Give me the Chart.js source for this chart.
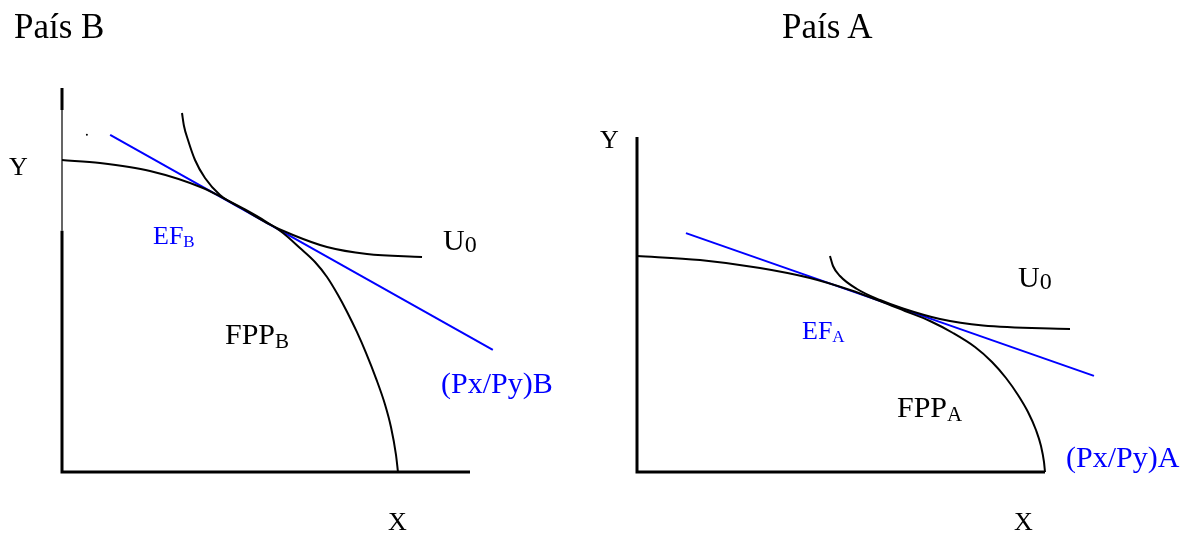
<!DOCTYPE html>
<html>
<head>
<meta charset="utf-8">
<script src="https://cdn.jsdelivr.net/npm/chart.js@4.4.1/dist/chart.umd.min.js"></script>
<style>
  html, body { margin: 0; padding: 0; background: #fff; }
  #page { position: relative; width: 1192px; height: 533px; overflow: hidden; font-family: "Liberation Serif", "Times New Roman", serif; }
  canvas { position: absolute; top: 0; }
  .lbl { position: absolute; white-space: nowrap; line-height: 1; color: #000; }
  .blue { color: #0000ff; }
  .sub { position: relative; }
</style>
</head>
<body>
<div id="page">
  <canvas id="chartB" width="596" height="533" style="left:0"></canvas>
  <canvas id="chartA" width="596" height="533" style="left:596px"></canvas>

  <div class="lbl" style="left:14px;top:9px;font-size:35px">País B</div>
  <div class="lbl" style="left:782px;top:9px;font-size:35px">País A</div>

  <div class="lbl" style="left:9px;top:154px;font-size:26px">Y</div>
  <div class="lbl" style="left:388px;top:509px;font-size:26px">X</div>
  <div class="lbl blue" style="left:153px;top:223px;font-size:26px">EF<span class="sub" style="font-size:17px;top:3px">B</span></div>
  <div class="lbl" style="left:443px;top:225px;font-size:30px">U<span class="sub" style="font-size:24px;top:2px">0</span></div>
  <div class="lbl" style="left:225px;top:319px;font-size:30px">FPP<span class="sub" style="font-size:21px;top:4px">B</span></div>
  <div class="lbl blue" style="left:441px;top:368px;font-size:30px">(Px/Py)B</div>

  <div class="lbl" style="left:600px;top:127px;font-size:26px">Y</div>
  <div class="lbl" style="left:1014px;top:509px;font-size:26px">X</div>
  <div class="lbl" style="left:1018px;top:262px;font-size:30px">U<span class="sub" style="font-size:24px;top:2px">0</span></div>
  <div class="lbl blue" style="left:802px;top:318px;font-size:26px">EF<span class="sub" style="font-size:17px;top:3px">A</span></div>
  <div class="lbl" style="left:897px;top:392px;font-size:30px">FPP<span class="sub" style="font-size:21px;top:4px">A</span></div>
  <div class="lbl blue" style="left:1066px;top:442px;font-size:30px">(Px/Py)A</div>
</div>

<script>
// País B: frontera de posibilidades, curva de indiferencia y relación de precios
const fppB_x = [0, 0.931, 2.157, 3.456, 3.995, 4.485, 4.975, 5.417, 5.833, 6.201, 6.495, 6.765, 6.985, 7.230, 7.451, 7.696, 7.917, 8.064, 8.186, 8.235];
const fppB_y = [8.125, 8.047, 7.839, 7.396, 7.109, 6.836, 6.536, 6.224, 5.833, 5.469, 5.078, 4.609, 4.174, 3.641, 3.102, 2.438, 1.758, 1.164, 0.448, 0];
const u0B_x = [2.941, 2.990, 3.088, 3.260, 3.505, 3.873, 4.436, 5.025, 5.662, 6.495, 7.475, 8.824];
const u0B_y = [9.349, 9.010, 8.646, 8.125, 7.656, 7.214, 6.849, 6.484, 6.172, 5.859, 5.677, 5.599];
const precioB_x = [1.18, 10.56];
const precioB_y = [8.78, 3.18];

// País A
const fppA_x = [0, 1.544, 3.015, 4.240, 5.221, 5.956, 6.569, 7.181, 7.745, 8.284, 8.701, 9.044, 9.338, 9.583, 9.779, 9.902, 9.975, 10.0];
const fppA_y = [6.448, 6.328, 6.090, 5.791, 5.433, 5.104, 4.806, 4.507, 4.149, 3.731, 3.284, 2.806, 2.299, 1.791, 1.254, 0.776, 0.299, 0];
const u0A_x = [4.730, 4.804, 4.975, 5.392, 5.956, 6.520, 7.426, 8.480, 10.613];
const u0A_y = [6.448, 6.149, 5.851, 5.463, 5.134, 4.881, 4.567, 4.373, 4.269];
const precioA_x = [1.20, 11.2];
const precioA_y = [7.13, 2.87];

// ejes (esquina en el origen)
const ejeSup_x = [0, 0];
const ejeSup_y = [10, 9.43];
const ejeMedio_y = [9.43, 6.28];
const ejeInf_x = [0, 0, 10];
const ejeInf_y = [6.28, 0, 0];
const ejeA_x = [0, 0, 10];
const ejeA_y = [10, 0, 0];

const pts = (xs, ys) => xs.map((x, i) => ({ x: x, y: ys[i] }));

function curva(xs, ys, color, ancho, suave) {
    return {
        data: pts(xs, ys),
        borderColor: color,
        borderWidth: ancho,
        pointRadius: 0,
        showLine: true,
        fill: false,
        clip: false,
        borderJoinStyle: 'miter',
        borderCapStyle: 'butt',
        cubicInterpolationMode: suave ? 'monotone' : 'default',
        tension: 0
    };
}

function opciones(padding) {
    return {
        responsive: false,
        animation: false,
        events: [],
        layout: { padding: padding },
        plugins: { legend: { display: false }, tooltip: { enabled: false } },
        scales: {
            x: { type: 'linear', min: 0, max: 10, display: false },
            y: { type: 'linear', min: 0, max: 10, display: false }
        }
    };
}

new Chart(document.getElementById('chartB').getContext('2d'), {
    type: 'scatter',
    data: {
        datasets: [
            curva(ejeSup_x, ejeSup_y, '#000', 3, false),
            curva(ejeSup_x, ejeMedio_y, '#000', 1.2, false),
            curva(ejeInf_x, ejeInf_y, '#000', 3, false),
            curva(fppB_x, fppB_y, '#000', 2, true),
            curva(u0B_x, u0B_y, '#000', 2, true),
            curva(precioB_x, precioB_y, '#0000ff', 2, false),
            { data: [{ x: 0.61, y: 8.78 }], pointRadius: 1, backgroundColor: '#000', borderWidth: 0, clip: false }
        ]
    },
    options: opciones({ left: 62, top: 88, right: 126, bottom: 61 })
});

new Chart(document.getElementById('chartA').getContext('2d'), {
    type: 'scatter',
    data: {
        datasets: [
            curva(ejeA_x, ejeA_y, '#000', 3, false),
            curva(fppA_x, fppA_y, '#000', 2, true),
            curva(u0A_x, u0A_y, '#000', 2, true),
            curva(precioA_x, precioA_y, '#0000ff', 2, false),
            { data: [{ x: 0.03, y: 10.75 }], pointStyle: 'line', pointRadius: 1.5, borderColor: '#333', borderWidth: 1, clip: false }
        ]
    },
    options: opciones({ left: 41, top: 137, right: 147, bottom: 61 })
});
</script>
</body>
</html>
